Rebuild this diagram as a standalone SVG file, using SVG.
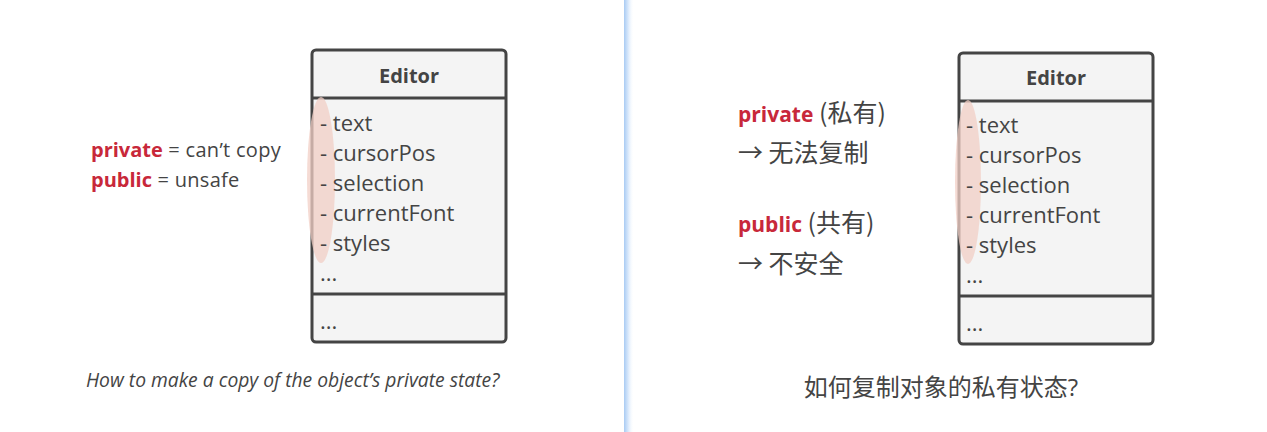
<svg xmlns="http://www.w3.org/2000/svg" width="1267" height="432" viewBox="0 0 1267 432">
<defs>
<linearGradient id="div" x1="0" y1="0" x2="1" y2="0">
<stop offset="0" stop-color="#a9cbf3"/>
<stop offset="0.4" stop-color="#d6e7fb"/>
<stop offset="1" stop-color="#ffffff" stop-opacity="0"/>
</linearGradient>
</defs>
<style>
.box{fill:#f4f4f4;stroke:#444;stroke-width:3}
.sep{stroke:#444;stroke-width:3}
.hl{fill:#f2cfc6;opacity:0.75}
.t{font-family:"Open Sans","Noto Sans",sans-serif;fill:#444}
.attr{font-size:22px}
.hdr{font-size:20px;font-weight:bold;text-anchor:middle}
.lbl{font-size:20px;letter-spacing:0.3px}
.red{fill:#c8283a;font-weight:bold;letter-spacing:0}
.cap{font-size:19.3px;font-style:italic}
.cjk{font-family:"Open Sans","Noto Sans CJK SC",sans-serif;fill:#444}
.zh{font-family:"Noto Sans CJK SC",sans-serif;font-size:25px}
</style>
<rect width="1267" height="432" fill="#fff"/>
<rect x="624" y="0" width="10" height="432" fill="url(#div)"/>

<g id="editor-left">
<rect class="box" x="312" y="50" width="194" height="292" rx="4"/>
<line class="sep" x1="312" y1="98" x2="506" y2="98"/>
<line class="sep" x1="312" y1="294" x2="506" y2="294"/>
<ellipse class="hl" cx="321" cy="180" rx="14" ry="83"/>
<text class="t hdr" x="409" y="83">Editor</text>
<text class="t attr" x="320" y="131">- text</text>
<text class="t attr" x="320" y="161">- cursorPos</text>
<text class="t attr" x="320" y="191">- selection</text>
<text class="t attr" x="320" y="221">- currentFont</text>
<text class="t attr" x="320" y="251">- styles</text>
<text class="t attr" x="320" y="281">...</text>
<text class="t attr" x="320" y="329">...</text>
</g>

<g id="label-left">
<text class="t lbl" x="91" y="157"><tspan class="red">private</tspan> = can’t copy</text>
<text class="t lbl" x="91" y="187"><tspan class="red">public</tspan> = unsafe</text>
</g>

<g id="caption-left">
<text class="t cap" x="86" y="387">How to make a copy of the object’s private state?</text>
</g>

<g id="editor-right">
<rect class="box" x="959" y="53" width="194" height="291" rx="4"/>
<line class="sep" x1="959" y1="101" x2="1153" y2="101"/>
<line class="sep" x1="959" y1="296" x2="1153" y2="296"/>
<ellipse class="hl" cx="968" cy="182" rx="13" ry="82"/>
<text class="t hdr" x="1056" y="85">Editor</text>
<text class="t attr" x="966" y="133">- text</text>
<text class="t attr" x="966" y="163">- cursorPos</text>
<text class="t attr" x="966" y="193">- selection</text>
<text class="t attr" x="966" y="223">- currentFont</text>
<text class="t attr" x="966" y="253">- styles</text>
<text class="t attr" x="966" y="283">...</text>
<text class="t attr" x="966" y="331">...</text>
</g>

<g id="label-right">
<text class="cjk" x="738" y="122" font-size="21"><tspan class="red">private</tspan><tspan class="zh"> (私有)</tspan></text>
<text class="cjk zh" x="738" y="162">→ 无法复制</text>
<text class="cjk" x="738" y="232" font-size="21"><tspan class="red">public</tspan><tspan class="zh"> (共有)</tspan></text>
<text class="cjk zh" x="738" y="273">→ 不安全</text>
</g>

<g id="caption-right">
<text class="cjk" x="941" y="396" font-size="24" text-anchor="middle">如何复制对象的私有状态?</text>
</g>
</svg>
